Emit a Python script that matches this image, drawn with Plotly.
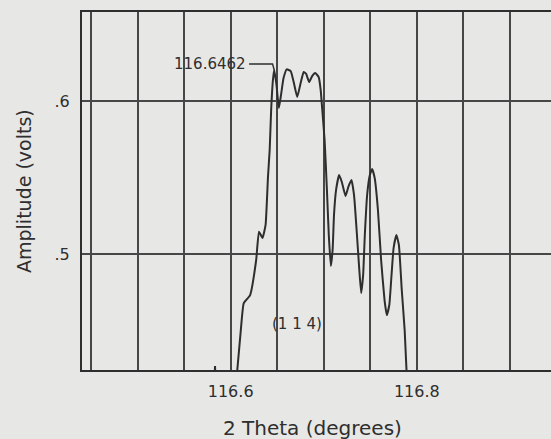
import plotly.graph_objects as go

# ---- data ----
theta = [116.6065, 116.6109, 116.6140, 116.6209, 116.6274, 116.6304, 116.6342, 116.6375,
         116.6401, 116.6419, 116.6435, 116.6454, 116.6468, 116.6492, 116.6518, 116.6541,
         116.6568, 116.6602, 116.6645, 116.6677, 116.6715, 116.6747, 116.6784, 116.6811,
         116.6843, 116.6875, 116.6908, 116.6945, 116.6967, 116.6980, 116.7009, 116.7034,
         116.7054, 116.7076, 116.7095, 116.7110, 116.7132, 116.7165, 116.7194, 116.7234,
         116.7267, 116.7298, 116.7325, 116.7353, 116.7382, 116.7402, 116.7423, 116.7441,
         116.7466, 116.7495, 116.7520, 116.7547, 116.7582, 116.7616, 116.7653, 116.7677,
         116.7704, 116.7728, 116.7750, 116.7780, 116.7807, 116.7838, 116.7869, 116.7892]
amplitude = [0.4200, 0.4503, 0.4678, 0.4732, 0.4961, 0.5146, 0.5105, 0.5190,
             0.5506, 0.5680, 0.5942, 0.6138, 0.6203, 0.6105, 0.5955, 0.6040,
             0.6150, 0.6207, 0.6196, 0.6124, 0.6026, 0.6105, 0.6190, 0.6177,
             0.6124, 0.6163, 0.6183, 0.6157, 0.6072, 0.5974, 0.5745, 0.5418,
             0.5124, 0.4922, 0.5026, 0.5255, 0.5418, 0.5516, 0.5471, 0.5379,
             0.5444, 0.5484, 0.5386, 0.5157, 0.4895, 0.4745, 0.4863, 0.5124,
             0.5386, 0.5516, 0.5556, 0.5497, 0.5288, 0.4961, 0.4699, 0.4601,
             0.4667, 0.4863, 0.5039, 0.5124, 0.5059, 0.4765, 0.4503, 0.4200]

blip_theta = [116.5828, 116.5832, 116.5836]
blip_amp = [0.4200, 0.4268, 0.4200]

x_tickvals = [116.6, 116.8]
x_ticktext = ["116.6", "116.8"]
y_tickvals = [0.5, 0.6]
y_ticktext = [".5", ".6"]

peak_label = "116.6462"
peak_theta = 116.6462
label_theta = 116.6198
label_amp = 0.6242
corner_theta = 116.6450

reflection_label = "(1 1 4)"
reflection_theta = 116.6717
reflection_amp = 0.4542

x_range = [116.4403, 116.9441]
y_range = [0.4242, 0.6582]

# ---- styling ----
BG = "#e7e7e5"
INK = "#2e2e2e"
GRID = "#474747"
FONT = "DejaVu Sans"

# nearest sample to the labelled peak
pk = min(range(len(theta)), key=lambda i: abs(theta[i] - peak_theta))

fig = go.Figure()
fig.add_trace(go.Scatter(x=theta, y=amplitude, mode="lines",
                         line=dict(color=INK, width=2, shape="spline", smoothing=0.4),
                         hoverinfo="skip", showlegend=False))
fig.add_trace(go.Scatter(x=blip_theta, y=blip_amp, mode="lines",
                         line=dict(color=INK, width=2),
                         hoverinfo="skip", showlegend=False))
fig.add_trace(go.Scatter(x=[label_theta, corner_theta, theta[pk]],
                         y=[label_amp, label_amp, amplitude[pk]], mode="lines",
                         line=dict(color=INK, width=1.4),
                         hoverinfo="skip", showlegend=False))

fig.add_annotation(x=label_theta, y=label_amp, text=peak_label, showarrow=False,
                   xanchor="right", yanchor="middle", xshift=-1,
                   font=dict(family=FONT, size=15, color=INK))
fig.add_annotation(x=reflection_theta, y=reflection_amp, text=reflection_label,
                   showarrow=False, xanchor="center", yanchor="middle",
                   font=dict(family=FONT, size=15, color=INK))

# axis titles
fig.add_annotation(xref="paper", yref="paper", x=-0.1237, y=0.5,
                   text="Amplitude (volts)", textangle=-90, showarrow=False,
                   xanchor="center", yanchor="middle",
                   font=dict(family=FONT, size=19, color=INK))
fig.add_annotation(xref="paper", yref="paper", x=0.4925, y=-0.162,
                   text="2 Theta (degrees)", showarrow=False,
                   xanchor="center", yanchor="middle",
                   font=dict(family=FONT, size=20, color=INK))

fig.update_layout(
    width=551, height=439,
    margin=dict(l=82, r=0, t=12, b=69),
    paper_bgcolor=BG, plot_bgcolor=BG,
    showlegend=False,
    xaxis=dict(range=x_range, tickvals=x_tickvals, ticktext=x_ticktext,
               showgrid=False, zeroline=False,
               ticks="outside", ticklen=6, tickcolor=BG,
               showline=True, linecolor=INK, linewidth=2, mirror=True,
               tickfont=dict(family=FONT, size=16, color=INK),
               minor=dict(tick0=116.45, dtick=0.05, showgrid=True,
                          gridcolor=GRID, gridwidth=2, ticks=""),
               automargin=False),
    yaxis=dict(range=y_range, tickvals=y_tickvals, ticktext=y_ticktext,
               showgrid=True, gridcolor=GRID, gridwidth=2, zeroline=False,
               ticks="outside", ticklen=7, tickcolor=BG,
               showline=True, linecolor=INK, linewidth=2, mirror=True,
               tickfont=dict(family=FONT, size=16, color=INK),
               automargin=False),
)

fig.write_html("out.html",
               config={"displayModeBar": False},
               post_script="document.body.style.margin='0';"
                           "document.body.style.background='" + BG + "';")
